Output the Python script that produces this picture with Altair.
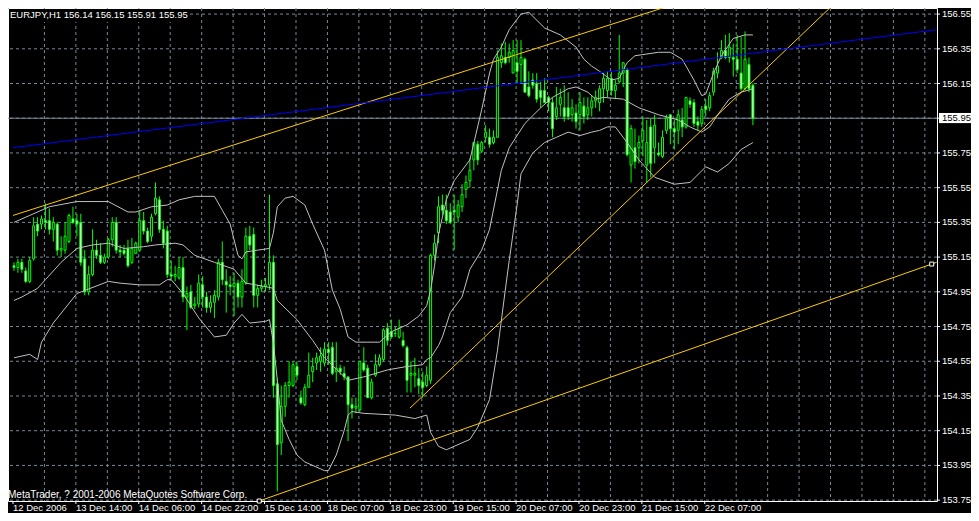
import altair as alt
import pandas as pd

FONT = "Liberation Sans"

# ---------------- data ----------------
OPEN = [155.10,155.09,155.12,155.07,155.01,155.14,155.34,155.34,155.36,155.36,
        155.31,155.34,155.19,155.19,155.24,155.37,155.36,155.35,155.14,154.95,
        155.05,155.19,155.16,155.12,155.15,155.25,155.35,155.19,155.19,155.20,
        155.12,155.17,155.19,155.36,155.30,155.27,155.40,155.48,155.31,155.30,
        155.05,155.04,155.03,155.09,154.92,154.95,154.87,154.88,154.99,154.92,
        154.86,154.89,154.92,155.12,155.01,154.99,154.98,155.00,154.92,155.00,
        155.27,155.28,154.93,154.97,154.98,154.99,155.12,154.42,154.08,154.29,
        154.41,154.41,154.52,154.34,154.30,154.40,154.49,154.54,154.55,154.54,
        154.62,154.63,154.49,154.51,154.48,154.46,154.30,154.28,154.27,154.54,
        154.51,154.34,154.47,154.53,154.56,154.74,154.72,154.71,154.69,154.67,
        154.63,154.47,154.47,154.45,154.43,154.41,154.44,155.16,155.29,155.45,
        155.42,155.41,155.42,155.38,155.44,155.54,155.59,155.71,155.80,155.76,
        155.84,155.84,155.81,155.84,156.27,156.30,156.30,156.21,156.27,156.26,
        156.29,156.13,156.17,156.15,156.11,156.11,156.07,156.04,155.96,156.03,
        156.01,156.01,155.97,155.98,155.97,156.02,155.97,156.01,156.05,156.04,
        156.12,156.11,156.18,156.11,156.16,156.21,156.23,155.68,155.78,155.78,
        155.82,155.68,155.90,155.78,155.75,155.73,155.88,155.97,155.89,155.88,
        155.94,155.90,156.05,156.04,155.93,155.92,156.02,156.01,156.10,156.21,
        156.30,156.34,156.30,156.30,156.29,156.21,156.12,156.26,156.14]
HIGH = [155.12,155.14,155.14,155.09,155.15,155.38,155.38,155.39,155.46,155.43,
        155.38,155.35,155.27,155.35,155.40,155.44,155.40,155.40,155.19,155.10,
        155.31,155.25,155.23,155.17,155.26,155.38,155.38,155.22,155.22,155.25,
        155.26,155.24,155.42,155.41,155.32,155.40,155.58,155.50,155.36,155.33,
        155.13,155.10,155.15,155.15,154.98,154.99,154.92,155.05,155.04,154.95,
        154.93,154.96,155.14,155.24,155.08,155.04,155.06,155.02,155.08,155.32,
        155.33,155.32,154.99,155.02,155.03,155.51,155.16,154.45,154.41,154.43,
        154.55,154.55,154.55,154.38,154.42,154.60,154.57,154.60,154.63,154.66,
        154.66,154.66,154.66,154.53,154.52,154.46,154.34,154.34,154.55,154.63,
        154.53,154.45,154.59,154.59,154.74,154.77,154.79,154.75,154.79,154.72,
        154.64,154.55,154.57,154.51,154.49,154.52,155.17,155.28,155.50,155.51,
        155.51,155.46,155.51,155.48,155.57,155.62,155.72,155.81,155.82,155.82,
        155.91,155.89,155.88,156.34,156.38,156.39,156.38,156.40,156.40,156.40,
        156.30,156.22,156.21,156.21,156.16,156.18,156.08,156.07,156.13,156.12,
        156.14,156.10,156.06,156.03,156.10,156.07,156.07,156.08,156.11,156.14,
        156.21,156.22,156.22,156.17,156.43,156.27,156.24,155.91,155.89,155.85,
        155.96,155.94,155.95,155.97,155.81,155.88,155.97,155.97,155.94,156.00,
        156.01,156.07,156.07,156.06,155.96,156.02,156.06,156.10,156.24,156.33,
        156.40,156.43,156.44,156.38,156.43,156.42,156.45,156.30,156.15]
LOW = [155.07,155.06,155.06,155.00,155.00,155.13,155.27,155.31,155.31,155.28,
       155.24,155.16,155.15,155.17,155.23,155.34,155.27,155.10,154.93,154.93,
       155.04,155.14,155.11,155.11,155.14,155.21,155.17,155.15,155.16,155.09,
       155.11,155.17,155.18,155.28,155.23,155.24,155.39,155.29,155.20,155.03,
       155.02,155.01,155.02,154.89,154.73,154.85,154.85,154.86,154.86,154.83,
       154.83,154.80,154.90,154.99,154.83,154.93,154.81,154.86,154.86,154.99,
       155.19,154.86,154.86,154.95,154.95,154.96,154.34,153.80,154.01,154.23,
       154.34,154.40,154.44,154.30,154.29,154.40,154.43,154.50,154.49,154.52,
       154.53,154.47,154.43,154.47,154.44,154.09,154.22,154.25,154.26,154.49,
       154.34,154.33,154.46,154.52,154.55,154.64,154.68,154.69,154.68,154.63,
       154.37,154.37,154.40,154.36,154.34,154.40,154.42,155.13,155.23,155.39,
       155.34,155.34,155.19,155.35,155.41,155.49,155.55,155.65,155.68,155.75,
       155.81,155.78,155.80,155.84,156.24,156.26,156.27,156.21,156.15,156.15,
       156.10,156.07,156.12,156.04,156.01,156.04,155.99,155.84,155.94,155.96,
       155.93,155.94,155.93,155.89,155.88,155.92,155.94,155.96,156.01,155.99,
       156.04,156.07,156.08,156.06,156.15,156.13,155.73,155.58,155.66,155.69,
       155.73,155.58,155.61,155.69,155.73,155.72,155.86,155.80,155.77,155.80,
       155.84,155.89,156.01,155.90,155.88,155.90,155.96,155.99,156.08,156.18,
       156.29,156.29,156.27,156.19,156.21,156.11,156.11,156.10,155.91]
CLOSE = [155.09,155.12,155.08,155.01,155.13,155.33,155.30,155.37,155.35,155.31,
         155.35,155.19,155.20,155.27,155.39,155.35,155.34,155.12,154.95,155.05,
         155.19,155.16,155.12,155.15,155.25,155.35,155.19,155.18,155.17,155.10,
         155.20,155.23,155.36,155.30,155.24,155.38,155.49,155.31,155.23,155.05,
         155.04,155.05,155.09,154.92,154.94,154.86,154.88,155.00,154.92,154.86,
         154.89,154.93,155.12,155.02,154.99,154.98,155.00,154.92,155.01,155.27,
         155.22,154.93,154.97,154.98,154.99,155.12,154.41,154.07,154.29,154.41,
         154.43,154.53,154.47,154.31,154.40,154.47,154.52,154.57,154.58,154.62,
         154.60,154.48,154.51,154.49,154.46,154.30,154.28,154.29,154.55,154.50,
         154.34,154.43,154.53,154.57,154.73,154.67,154.69,154.71,154.74,154.64,
         154.44,154.48,154.48,154.41,154.40,154.47,155.16,155.23,155.44,155.42,
         155.36,155.35,155.41,155.45,155.51,155.58,155.65,155.81,155.71,155.81,
         155.87,155.80,155.84,156.30,156.31,156.27,156.33,156.34,156.22,156.30,
         156.10,156.08,156.14,156.06,156.07,156.04,156.04,155.89,156.01,156.07,
         155.96,155.96,156.01,155.93,156.04,155.96,156.01,156.05,156.07,156.12,
         156.18,156.18,156.11,156.14,156.21,156.27,155.74,155.89,155.70,155.81,
         155.88,155.81,155.69,155.91,155.74,155.84,155.95,155.89,155.87,155.97,
         155.90,156.07,156.03,155.92,155.91,156.00,156.00,156.08,156.22,156.25,
         156.34,156.30,156.36,156.29,156.23,156.12,156.29,156.12,155.95]

# Bollinger band lines, read at sampled bars (bar index, price)
UPPER_I = [0,4,9,16,24,29,31,35,39,42,46,51,53,55,57,58,59,62,65,66,67,69,71,74,76,79,81,83,85,87,90,93,96,100,103,105,106,107,108,110,112,116,119,121,122,124,126,129,131,135,139,143,145,147,149,152,154,156,158,164,167,170,173,175,176,178,180,183,186,188]
UPPER_P = [155.35,155.39,155.44,155.47,155.47,155.41,155.41,155.44,155.45,155.48,155.50,155.50,155.42,155.34,155.16,155.14,155.18,155.19,155.20,155.29,155.44,155.49,155.50,155.45,155.34,155.19,154.96,154.85,154.69,154.66,154.66,154.66,154.72,154.76,154.81,154.87,154.96,155.10,155.28,155.48,155.59,155.71,156.00,156.21,156.29,156.36,156.46,156.55,156.56,156.47,156.43,156.36,156.29,156.25,156.22,156.17,156.18,156.27,156.31,156.33,156.33,156.29,156.17,156.08,156.09,156.21,156.31,156.41,156.43,156.43]
MIDDLE_I = [0,2,6,8,12,16,20,24,28,33,36,41,43,46,51,56,59,64,66,67,72,76,79,85,89,95,100,104,105,106,108,109,111,114,116,119,121,124,126,130,134,137,141,143,146,148,150,155,159,164,169,172,175,177,180,182,185,188]
MIDDLE_P = [154.90,154.92,154.97,155.02,155.12,155.20,155.22,155.23,155.20,155.21,155.22,155.23,155.22,155.16,155.12,155.08,155.00,154.98,154.97,154.90,154.79,154.67,154.57,154.44,154.46,154.50,154.52,154.53,154.56,154.57,154.64,154.69,154.83,154.92,155.08,155.19,155.31,155.65,155.78,155.92,156.01,156.07,156.12,156.13,156.10,156.06,156.07,156.06,156.01,155.97,155.94,155.90,155.87,155.90,156.00,156.06,156.10,156.12]
LOWER_I = [0,4,6,7,10,16,24,27,32,37,39,40,43,47,51,54,56,58,60,64,65,66,67,68,70,72,74,79,80,82,84,85,86,89,97,102,105,106,108,110,114,116,118,121,123,125,126,128,129,132,135,138,141,144,147,149,151,153,156,159,163,168,172,176,179,182,185,188]
LOWER_P = [154.57,154.59,154.56,154.66,154.77,154.94,155.01,155.00,154.99,154.99,155.02,155.02,154.94,154.80,154.69,154.70,154.77,154.82,154.77,154.78,154.79,154.66,154.44,154.21,154.10,154.01,153.97,153.92,153.92,154.01,154.15,154.24,154.26,154.25,154.24,154.22,154.24,154.14,154.06,154.04,154.08,154.10,154.17,154.33,154.61,154.96,155.13,155.45,155.63,155.75,155.81,155.84,155.87,155.85,155.87,155.88,155.90,155.90,155.81,155.71,155.61,155.57,155.58,155.67,155.64,155.69,155.77,155.81]

# Drawn objects (trend lines): two anchor points each (bar index, price)
TL_NAME = ["channel_top", "channel_bottom", "steep", "blue"]
TL_I0 = [-0.25, 56.75, 100.75, -0.25]
TL_P0 = [155.39, 153.70, 154.28, 155.78]
TL_I1 = [174.0, 234.75, 211.5, 234.75]
TL_P1 = [156.65, 155.12, 156.67, 156.46]
TL_COLOR = ["#ffcc00", "#ffcc00", "#ffcc00", "#0000ff"]
# selection handles of the bottom channel line where it meets the frame
HANDLE_I = [62.4, 233.5]
HANDLE_P = [153.745, 155.11]

TIME_LABELS = ["12 Dec 2006", "13 Dec 14:00", "14 Dec 06:00", "14 Dec 22:00",
               "15 Dec 14:00", "18 Dec 07:00", "18 Dec 23:00", "19 Dec 15:00",
               "20 Dec 07:00", "20 Dec 23:00", "21 Dec 15:00", "22 Dec 07:00"]
PRICE_TICKS = [153.75, 153.95, 154.15, 154.35, 154.55, 154.75, 154.95, 155.15,
               155.35, 155.55, 155.75, 155.95, 156.15, 156.35, 156.55]
BID = 155.95
HEADER = "EURJPY,H1  156.14 156.15 155.91 155.95"
COPYRIGHT = "MetaTrader, ? 2001-2006 MetaQuotes Software Corp."

# ---------------- tables ----------------
n = len(CLOSE)
candles = pd.DataFrame({"i": list(range(n)), "open": OPEN, "high": HIGH,
                        "low": LOW, "close": CLOSE})
candles["fill"] = ["#000000" if c >= o else "#ffffff" for o, c in zip(OPEN, CLOSE)]

bands = pd.concat([
    pd.DataFrame({"band": "upper", "i": UPPER_I, "p": UPPER_P}),
    pd.DataFrame({"band": "middle", "i": MIDDLE_I, "p": MIDDLE_P}),
    pd.DataFrame({"band": "lower", "i": LOWER_I, "p": LOWER_P}),
])

tl_rows = []
for k, name in enumerate(TL_NAME):
    tl_rows.append({"name": name, "i": TL_I0[k], "p": TL_P0[k], "color": TL_COLOR[k]})
    tl_rows.append({"name": name, "i": TL_I1[k], "p": TL_P1[k], "color": TL_COLOR[k]})
tlines = pd.DataFrame(tl_rows)
handles = pd.DataFrame({"i": HANDLE_I, "p": HANDLE_P})
bid_df = pd.DataFrame({"p": [BID], "hi": [BID + 0.03], "lo": [BID - 0.028],
                       "t": ["%.2f" % BID]})
one = pd.DataFrame({"a": [0]})

# time grid: one vertical line every 8 bars, a label every 16 bars
x_grid = pd.DataFrame({"i": [-0.25 + 8 * k for k in range(1, 30)]})
x_lab = pd.DataFrame({"i": [-0.25 + 16 * k for k in range(len(TIME_LABELS))],
                      "t": TIME_LABELS})
y_grid = pd.DataFrame({"p": PRICE_TICKS})
y_lab = pd.DataFrame({"p": [p for p in PRICE_TICKS if abs(p - BID) > 0.001],
                      "t": ["%.2f" % p for p in PRICE_TICKS if abs(p - BID) > 0.001]})

# ---------------- scales ----------------
W, H = 929, 493
XS = alt.Scale(domain=[-0.25, 233.57], nice=False, zero=False)
YS = alt.Scale(domain=[153.745, 156.585], nice=False, zero=False)
X = lambda f: alt.X(f, scale=XS, axis=None)
Y = lambda f: alt.Y(f, scale=YS, axis=None)

GRID = "#778899"
LIME = "#00ff00"

# ---------------- layers ----------------
vgrid = alt.Chart(x_grid).mark_rule(color=GRID, strokeWidth=1, strokeDash=[3, 3]).encode(
    x=X("i:Q"))
hgrid = alt.Chart(y_grid).mark_rule(color=GRID, strokeWidth=1, strokeDash=[3, 3]).encode(
    y=Y("p:Q"))
xticks = alt.Chart(x_lab).mark_rule(color="white", strokeWidth=1).encode(
    x=X("i:Q"), y=alt.value(H), y2=alt.value(H + 3))
yticks = alt.Chart(y_grid).mark_rule(color="white", strokeWidth=1).encode(
    y=Y("p:Q"), x=alt.value(W), x2=alt.value(W + 3))
xlabels = alt.Chart(x_lab).mark_text(align="left", baseline="top", color="white",
                                     font=FONT, fontSize=9.5, dy=2).encode(
    x=X("i:Q"), y=alt.value(H), text="t:N")
ylabels = alt.Chart(y_lab).mark_text(align="left", baseline="middle", color="white",
                                     font=FONT, fontSize=9.5).encode(
    y=Y("p:Q"), x=alt.value(W + 5), text="t:N")

bid_line = alt.Chart(bid_df).mark_rule(color=GRID, strokeWidth=1).encode(y=Y("p:Q"))

wicks = alt.Chart(candles).mark_rule(color=LIME, strokeWidth=1).encode(
    x=X("i:Q"), y=Y("low:Q"), y2="high:Q")

bodies = alt.Chart(candles).mark_bar(width=2, stroke=LIME, strokeWidth=1).encode(
    x=X("i:Q"), y=Y("open:Q"), y2="close:Q",
    fill=alt.Fill("fill:N", scale=None))

band_lines = alt.Chart(bands).mark_line(color="#c0c0c0", strokeWidth=1, clip=True).encode(
    x=X("i:Q"), y=Y("p:Q"), detail="band:N")

trend = alt.Chart(tlines).mark_line(strokeWidth=1, clip=True).encode(
    x=X("i:Q"), y=Y("p:Q"), detail="name:N",
    color=alt.Color("color:N", scale=None))

handle_pts = alt.Chart(handles).mark_square(size=16, color="black", stroke="white",
                                            strokeWidth=1, opacity=1).encode(
    x=X("i:Q"), y=Y("p:Q"))

bid_box = alt.Chart(bid_df).mark_rect(color="white").encode(
    x=alt.value(W + 2), x2=alt.value(W + 34), y=Y("hi:Q"), y2="lo:Q")

bid_text = alt.Chart(bid_df).mark_text(align="left", baseline="middle", color="black",
                                       font=FONT, fontSize=9.5).encode(
    x=alt.value(W + 5), y=Y("p:Q"), text="t:N")

header_bg = alt.Chart(one).mark_rect(color="black").encode(
    x=alt.value(1), x2=alt.value(182), y=alt.value(1), y2=alt.value(14))

header = alt.Chart(one).mark_text(align="left", baseline="top", color="white",
                                  font=FONT, fontSize=9.5).encode(
    x=alt.value(2), y=alt.value(2), text=alt.value(HEADER))

copyright_txt = alt.Chart(one).mark_text(align="left", baseline="alphabetic",
                                         color="white", font=FONT, fontSize=10).encode(
    x=alt.value(0), y=alt.value(H - 3), text=alt.value(COPYRIGHT))

chart = alt.layer(
    vgrid, hgrid, xticks, yticks, xlabels, ylabels,
    bid_line, wicks, bodies, band_lines, trend, handle_pts,
    bid_box, bid_text, header_bg, header, copyright_txt
).properties(
    width=W, height=H, background="black",
    padding={"left": 0, "top": 0, "right": 34, "bottom": 12},
    autosize=alt.AutoSizeParams(type="none"),
).configure_view(stroke="white", strokeWidth=1, fill="black")

chart.save("out.html", embed_options={"renderer": "svg", "actions": False})
